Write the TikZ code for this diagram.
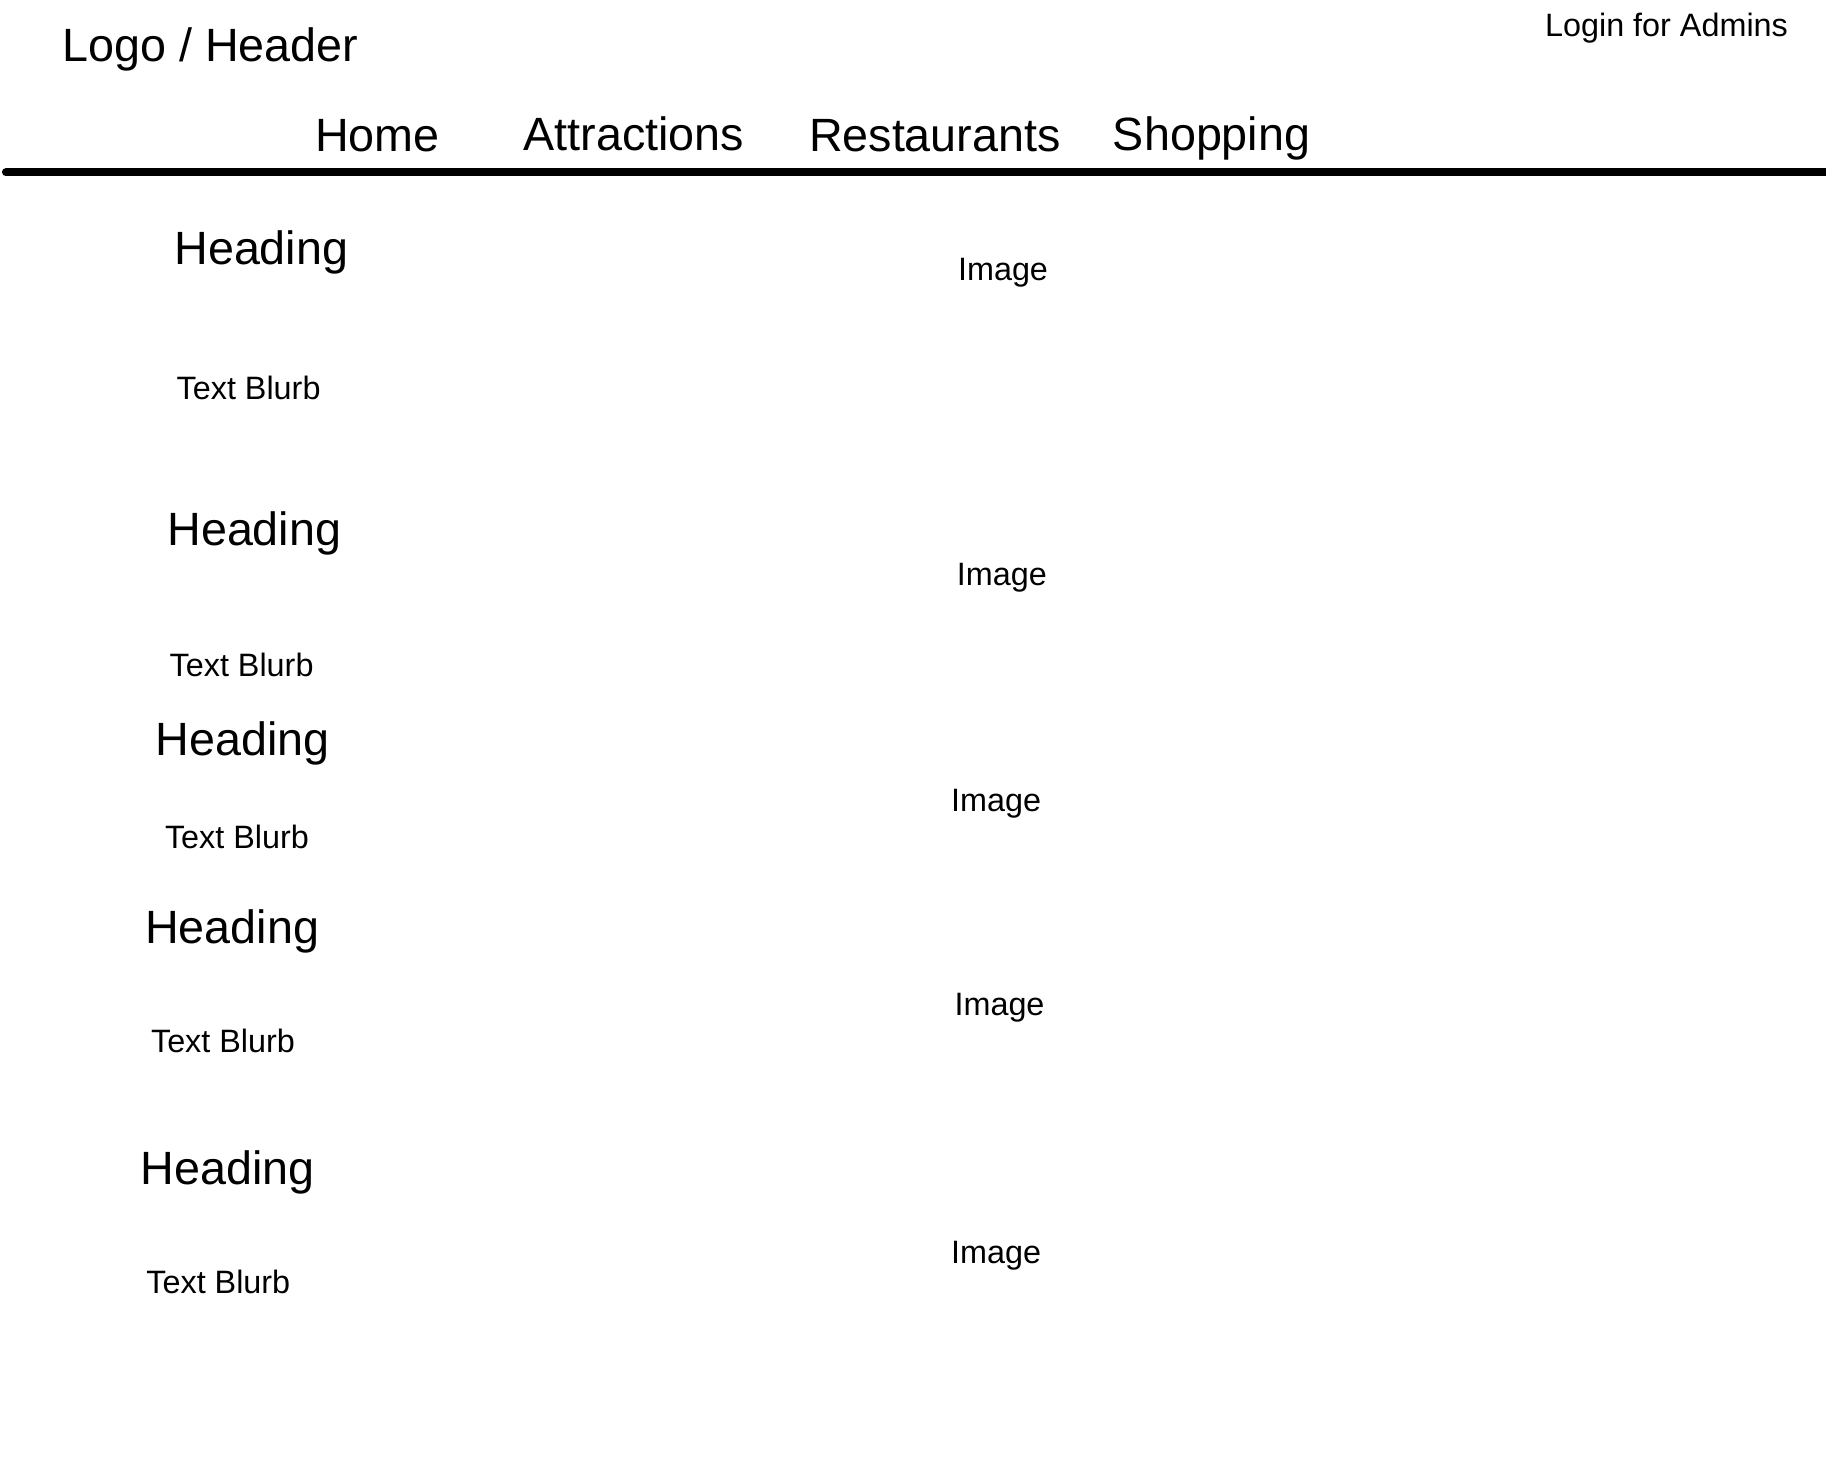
\documentclass[tikz,border=0pt]{standalone}
\usepackage{fontspec}
\setmainfont{Liberation Sans}
\tikzset{
  bigtext/.style={anchor=base west, inner sep=0pt, font=\fontsize{11.4pt}{13pt}\selectfont},
  smalltext/.style={anchor=base west, inner sep=0pt, font=\fontsize{7.9pt}{9pt}\selectfont},
}
\begin{document}
\begin{tikzpicture}[x=0.01cm, y=-0.01cm]
  \useasboundingbox (0,0) rectangle (1568,1254);
  % Header
  \node[bigtext]   (logo)  at (53,53)   {Logo / Header};
  \node[smalltext, anchor=base east] (login) at (1536,31) {Login for Admins};

  % Menu
  \node[bigtext] (home) at (270,130) {Home};
  \node[bigtext] (attr) at (449,129) {Attractions};
  \node[bigtext] (rest) at (694,130) {Restaurants};
  \node[bigtext] (shop) at (955,129) {Shopping};
  \coordinate (lineL) at (5,148);
  \coordinate (lineR) at (1575,148);
  \draw[line width=1.9pt, line cap=round] (lineL) -- (lineR);

  % Content rows
  \node[bigtext]   (head1)  at (149,227)  {Heading};
  \node[smalltext] (img1)   at (822,241)  {Image};
  \node[smalltext] (blurb1) at (151,343)  {Text Blurb};

  \node[bigtext]   (head2)  at (143,468)  {Heading};
  \node[smalltext] (img2)   at (821,503)  {Image};
  \node[smalltext] (blurb2) at (145,581)  {Text Blurb};

  \node[bigtext]   (head3)  at (133,649)  {Heading};
  \node[smalltext] (img3)   at (816,697)  {Image};
  \node[smalltext] (blurb3) at (141,729)  {Text Blurb};

  \node[bigtext]   (head4)  at (124,810)  {Heading};
  \node[smalltext] (img4)   at (819,872)  {Image};
  \node[smalltext] (blurb4) at (129,904)  {Text Blurb};

  \node[bigtext]   (head5)  at (120,1017) {Heading};
  \node[smalltext] (img5)   at (816,1085) {Image};
  \node[smalltext] (blurb5) at (125,1111) {Text Blurb};
\end{tikzpicture}
\end{document}
